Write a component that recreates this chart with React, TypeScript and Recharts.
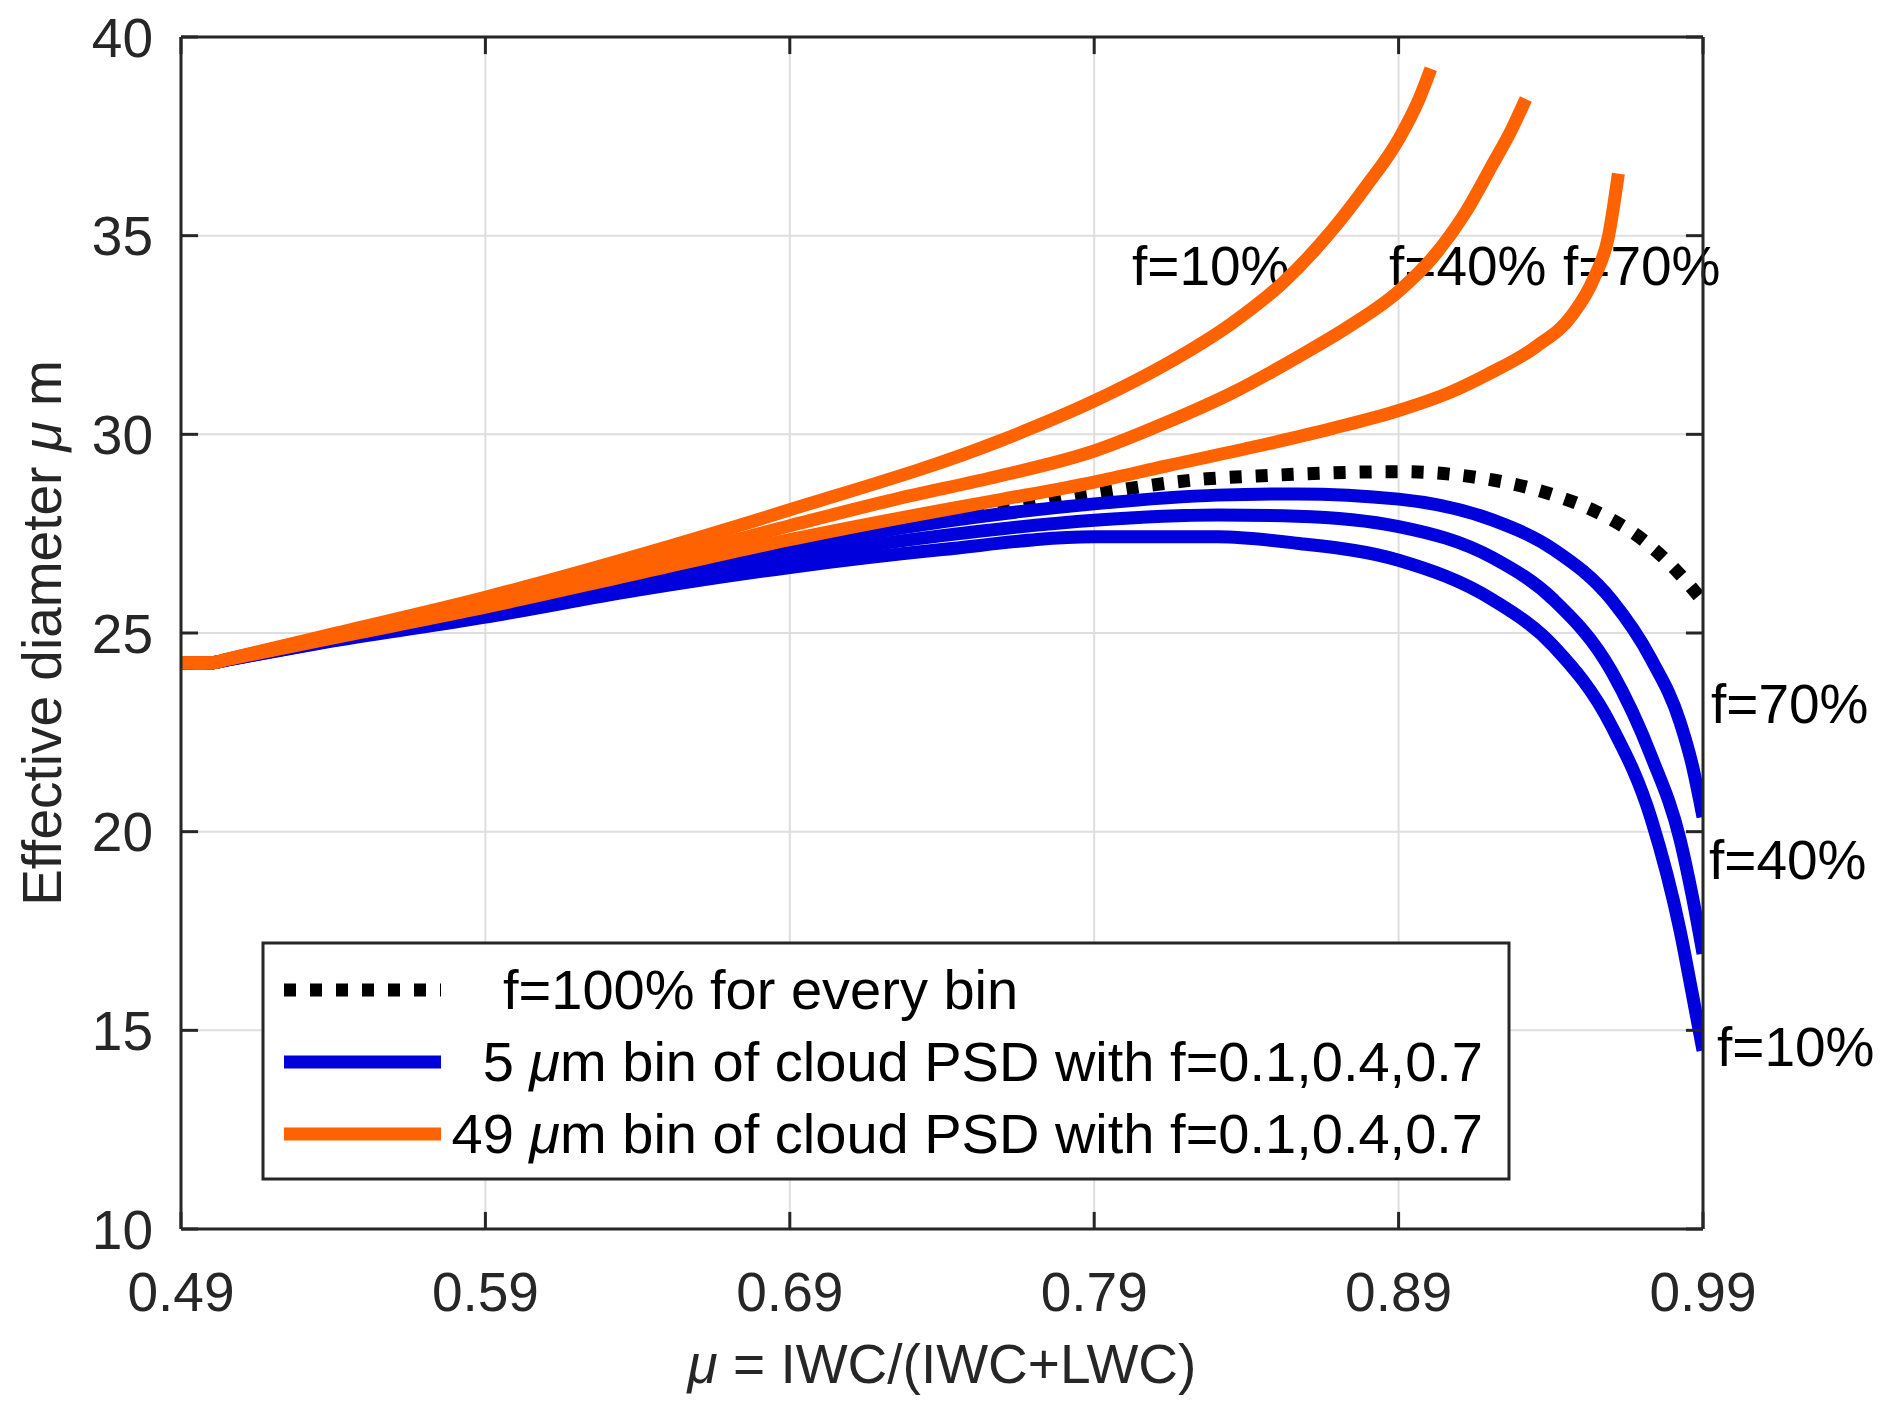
import React from 'react';
import { LineChart, Line, XAxis, YAxis, CartesianGrid, ReferenceLine } from 'recharts';

// axis ticks
const X_TICKS = [0.49, 0.59, 0.69, 0.79, 0.89, 0.99];
const Y_TICKS = [10, 15, 20, 25, 30, 35, 40];
const X_DOMAIN = [0.49, 0.99];
const Y_DOMAIN = [10, 40];

// f=100% for every bin (black dotted)
const K_X = [0.49, 0.5, 0.505, 0.54, 0.59, 0.64, 0.69, 0.74, 0.76, 0.79, 0.827, 0.8435, 0.89, 0.921, 0.941, 0.955, 0.971, 0.98, 0.99];
const K_Y = [24.25, 24.25, 24.33, 24.86, 25.55, 26.4, 27.2, 27.85, 28.1, 28.5, 28.88, 28.95, 29.06, 28.85, 28.47, 28.05, 27.3, 26.67, 25.8];

// 5 um bin (blue), f = 0.1, 0.4, 0.7
const B_X = [0.49, 0.5, 0.505, 0.54, 0.59, 0.64, 0.69, 0.74, 0.79, 0.8305, 0.8565, 0.89, 0.921, 0.941, 0.96, 0.973, 0.9825, 0.9864, 0.99];
const B10_Y = [24.25, 24.25, 24.32, 24.8, 25.4, 26.08, 26.65, 27.1, 27.42, 27.42, 27.26, 26.83, 25.83, 24.66, 22.65, 20.32, 17.5, 15.95, 14.49];
const B40_Y = [24.25, 24.25, 24.32, 24.82, 25.45, 26.2, 26.9, 27.45, 27.84, 27.97, 27.94, 27.68, 26.89, 25.83, 24.03, 21.9, 19.79, 18.41, 16.93];
const B70_Y = [24.25, 24.25, 24.33, 24.84, 25.5, 26.33, 27.15, 27.8, 28.25, 28.47, 28.5, 28.37, 27.84, 27.1, 25.83, 24.34, 22.75, 21.7, 20.37];

// 49 um bin (orange)
const O10_X = [0.49, 0.5, 0.505, 0.54, 0.59, 0.64, 0.69, 0.7588, 0.79, 0.8135, 0.8355, 0.8519, 0.8683, 0.8793, 0.8902, 0.8968, 0.9006];
const O10_Y = [24.25, 24.25, 24.34, 24.98, 25.9, 26.95, 28.1, 29.83, 30.84, 31.76, 32.81, 33.81, 35.15, 36.24, 37.45, 38.45, 39.2];
const O40_X = [0.49, 0.5, 0.505, 0.54, 0.59, 0.64, 0.69, 0.7265, 0.7588, 0.79, 0.8135, 0.8355, 0.8574, 0.8738, 0.89, 0.9012, 0.9121, 0.9209, 0.927, 0.9318];
const O40_Y = [24.25, 24.25, 24.34, 24.93, 25.78, 26.7, 27.7, 28.4, 28.95, 29.58, 30.29, 31.05, 31.97, 32.72, 33.6, 34.45, 35.6, 36.8, 37.65, 38.44];
const O70_X = [0.49, 0.5, 0.505, 0.54, 0.59, 0.64, 0.69, 0.7265, 0.7588, 0.79, 0.8135, 0.8464, 0.8683, 0.89, 0.9067, 0.919, 0.935, 0.947, 0.954, 0.959, 0.9622];
const O70_Y = [24.25, 24.25, 24.33, 24.88, 25.65, 26.5, 27.35, 27.9, 28.35, 28.8, 29.2, 29.75, 30.15, 30.6, 31.05, 31.5, 32.2, 33.0, 33.9, 35.0, 36.56];

const BLUE = '#0000dd';
const ORANGE = '#ff6200';
const INK = '#262626';
const FONT = "'Liberation Sans', Arial, Helvetica, sans-serif";
const FS = 55;
const LW = 13;
// inward tick length, in data units (about 17px on each axis)
const TX = 0.0056;
const TY = 0.43;

const pts = (xs: number[], ys: number[]) => xs.map((x, i) => ({ x, y: ys[i] }));

const SERIES = [
  { key: 'k', data: pts(K_X, K_Y), color: '#000', dash: '12 14' },
  { key: 'b10', data: pts(B_X, B10_Y), color: BLUE },
  { key: 'b40', data: pts(B_X, B40_Y), color: BLUE },
  { key: 'b70', data: pts(B_X, B70_Y), color: BLUE },
  { key: 'o10', data: pts(O10_X, O10_Y), color: ORANGE },
  { key: 'o40', data: pts(O40_X, O40_Y), color: ORANGE },
  { key: 'o70', data: pts(O70_X, O70_Y), color: ORANGE },
];

const tickStyle = { fontSize: FS, fill: INK, fontFamily: FONT };
const frame = { stroke: INK, strokeWidth: 3 };

export default function App() {
  const [x0, x1] = X_DOMAIN;
  const [y0, y1] = Y_DOMAIN;
  const tickSegs = [
    ...X_TICKS.flatMap(x => [
      [{ x, y: y0 }, { x, y: y0 + TY }],
      [{ x, y: y1 - TY }, { x, y: y1 }],
    ]),
    ...Y_TICKS.flatMap(y => [
      [{ x: x0, y }, { x: x0 + TX, y }],
      [{ x: x1 - TX, y }, { x: x1, y }],
    ]),
  ];

  return (
    <div style={{ position: 'absolute', left: 0, top: 0, width: 1892, height: 1418, background: '#fff' }}>
      <LineChart width={1892} height={1418} margin={{ top: 37, right: 189, left: 51, bottom: 59 }}>
        <CartesianGrid stroke="#dedede" strokeWidth={2} />
        <XAxis
          type="number" dataKey="x" domain={X_DOMAIN} ticks={X_TICKS} interval={0}
          allowDataOverflow height={130} tickSize={0} tickMargin={43} tickLine={false}
          tick={tickStyle} axisLine={frame} tickFormatter={(v: number) => v.toFixed(2)}
        />
        <YAxis
          type="number" domain={Y_DOMAIN} ticks={Y_TICKS} interval={0} allowDataOverflow
          width={130} tickSize={0} tickMargin={28} tickLine={false} tick={tickStyle}
          axisLine={frame}
        />
        {SERIES.map(s => (
          <Line
            key={s.key} data={s.data} dataKey="y" type="monotone" stroke={s.color}
            strokeWidth={LW} strokeDasharray={s.dash} dot={false} activeDot={false}
            isAnimationActive={false}
          />
        ))}

        {/* box: top and right edges, plus inward ticks on all four sides */}
        <ReferenceLine y={y1} {...frame} />
        <ReferenceLine x={x1} {...frame} />
        {tickSegs.map((seg, i) => (
          <ReferenceLine key={i} segment={seg} {...frame} />
        ))}

        {/* curve annotations */}
        <g fontFamily={FONT} fontSize={FS} fill="#000">
          <text x={1132} y={285}>f=10%</text>
          <text x={1389} y={285}>f=40%</text>
          <text x={1563} y={285}>f=70%</text>
          <text x={1711} y={723}>f=70%</text>
          <text x={1709} y={879}>f=40%</text>
          <text x={1717} y={1066}>f=10%</text>
        </g>

        {/* legend */}
        <g fontFamily={FONT} fontSize={56} fill="#000">
          <rect x={263} y={943} width={1246} height={236} fill="#fff" stroke={INK} strokeWidth={3} />
          <line x1={284} x2={441} y1={990} y2={990} stroke="#000" strokeWidth={LW} strokeDasharray="12 14" />
          <line x1={284} x2={441} y1={1062} y2={1062} stroke={BLUE} strokeWidth={LW} />
          <line x1={284} x2={441} y1={1134} y2={1134} stroke={ORANGE} strokeWidth={LW} />
          <text x={503} y={1009}>f=100% for every bin</text>
          <text x={1483} y={1081} textAnchor="end">
            5 <tspan fontStyle="italic">μ</tspan>m bin of cloud PSD with f=0.1,0.4,0.7
          </text>
          <text x={1483} y={1153} textAnchor="end">
            49 <tspan fontStyle="italic">μ</tspan>m bin of cloud PSD with f=0.1,0.4,0.7
          </text>
        </g>

        {/* axis titles */}
        <g fontFamily={FONT} fontSize={FS} fill={INK}>
          <text x={942} y={1383} textAnchor="middle">
            <tspan fontStyle="italic">μ</tspan> = IWC/(IWC+LWC)
          </text>
          <text x={0} y={0} textAnchor="middle" transform="translate(61 633) rotate(-90)">
            Effective diameter <tspan fontStyle="italic">μ</tspan> m
          </text>
        </g>
      </LineChart>
    </div>
  );
}
